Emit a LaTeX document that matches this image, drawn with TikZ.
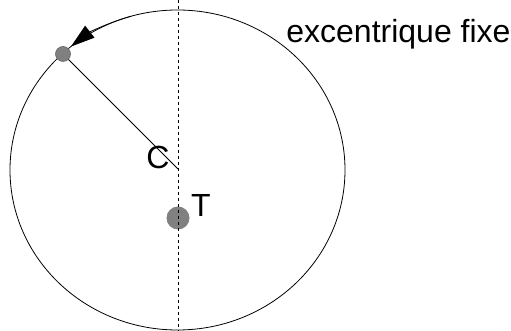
\documentclass[tikz,border=0pt]{standalone}
\usepackage{fontspec}
\setmainfont{Liberation Sans}
\usetikzlibrary{arrows.meta,calc}
\begin{document}
\begin{tikzpicture}[x=1pt,y=1pt,line width=0.8pt,
  lbl/.style={font=\fontsize{32}{34}\selectfont,inner sep=0pt},
  dot/.style={circle,fill=black!50,draw=black!60,line width=0.6pt,inner sep=0pt}]
\useasboundingbox (0,0) rectangle (511,331);
\coordinate (O) at (177.5,161);
\draw (O) ellipse[x radius=167.5,y radius=160];
\coordinate (top) at (178,331);
\coordinate (bot) at (178,0);
\coordinate (Cp) at (178,162);
\node[dot,minimum size=23pt,draw=none] (Tp) at (178,113) {};
\draw[dashed,line width=0.7pt] (top) -- (bot);
\coordinate (Pc) at (63,277);
\draw (Pc) -- (Cp);
\node[dot,minimum size=15pt] (P) at (Pc) {};
\draw[-{Triangle[length=24pt,width=15pt]}] ($(O)+(106:167.5 and 160)$) arc[start angle=106,end angle=129.5,x radius=167.5,y radius=160];
\node[lbl] (Cl) at (158,174) {C};
\node[lbl] (Tl) at (201,126) {T};
\node[lbl,anchor=west] (ex) at (286,297) {excentrique fixe};
\end{tikzpicture}
\end{document}
